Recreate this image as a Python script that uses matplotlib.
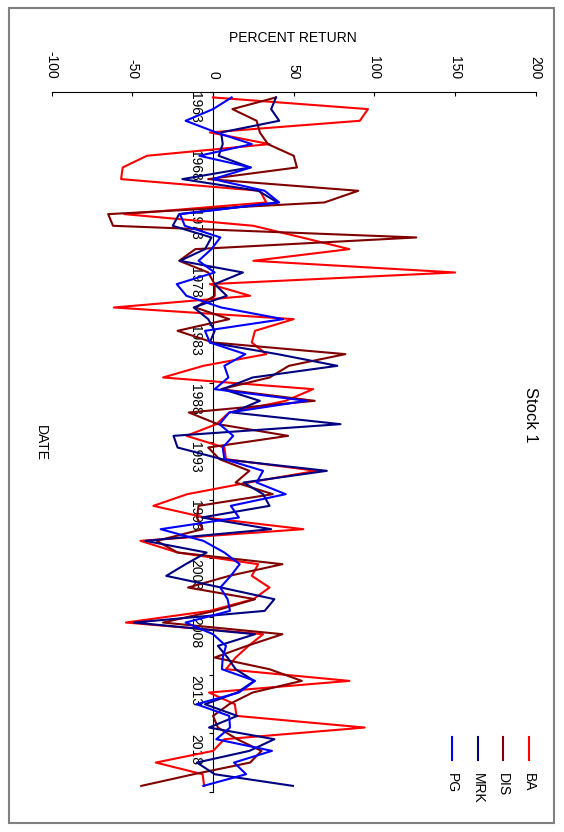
import numpy as np
import matplotlib
matplotlib.use("Agg")
import matplotlib.pyplot as plt
from matplotlib.lines import Line2D
from matplotlib.patches import Rectangle

plt.rcParams['font.family'] = ['Liberation Sans', 'DejaVu Sans']

# annual returns (%), one value per year, dated mid-year
years = np.arange(1963, 2023)

ba = [0, 96, 91, -2, 35, -41, -56, -57, 29, 33,
      -55, 25, 55, 84.5, 25, 150, -2, 23, -61.5, 50,
      26, 24, 33, -6, -31, 62, 45, 10, 2, -16.5,
      7, 8, 64, 22, -16, -37, -5, 56, -45, -22,
      28, 24, 35, 25, -2, -54, 31, 22, 14, 8,
      84.5, -2.5, 13.5, 14.5, 94, 7, 0, -35.5, -6.5, -5.5]

dis = [39, 12, 27, 29, 34, 50, 52, -3, 90, 69,
       -65, -62, 126, -11, -21, -3, 1, 1, -11, 10,
       -22, 0, 82, 47, 35, 5, 63, -15, 3, 46.5,
       -3, 4, 22.5, 14, 37, -9, -10, -6.5, -35, -22,
       43, 10, -15.5, 26, 1, -31, 43, 21, 1, 35,
       55, 24.5, 10, 0, 3, 15, 30, 23, -12, -44.5]

mrk = [39, 36, 41, 5, 6, 3.5, 23, -19, 28, 40,
       -21, -25, -1, -5, -20.5, 18.5, 1, 8.5, -12, -3,
       1, -2, 40, 77, 24.5, 6, 29, 12, 79, -24.5,
       -22, 5.5, 70.5, 19, 31, 35, -7, 36, -42, -4,
       -17, -29, 5, 38, 32, -49, 26, 3, 9, 14,
       25.5, 15, -5, 15, -2.5, 38, 22.5, -10, 1, 49.5]

pg = [11.5, 0, -17, 2, 24, -8.5, 23.5, 0, 32, 41,
      -20.5, -17.5, 4.5, -1, -9, 1, -22.5, -16.5, 5, 43.5,
      -5, -2, 20, 7, 9.5, 1, 58, 10, 4, 12.5,
      6, 7, 31, 27, 45, 11, 16, -32.5, -6, 7,
      16.5, 11, 4.5, 9, 10.5, -17, 0, 8, 6, 5.5,
      26, 16, -10.3, 10, 10.5, 2, 36.5, 13, 20.5, -6]

names = ['BA', 'DIS', 'MRK', 'PG']
colors = ['#ff0000', '#800000', '#000080', '#0000ff']
series = [ba, dis, mrk, pg]

label_years = np.arange(1963, 2019, 5)
tick_years = np.arange(1963, 2024, 5)
x_ticks = np.arange(-100, 201, 50)

fig = plt.figure(figsize=(5.64, 8.32), dpi=100)
ax = fig.add_axes([0.0917, 0.0484, 0.8582, 0.8415])

dates = years + 0.5
for vals, c in zip(series, colors):
    ax.plot(vals, dates, color=c, lw=1.5, zorder=3)

ax.set_xlim(-100, 200)
ax.set_ylim(2023, 1963)

# value axis on top
ax.xaxis.set_ticks_position('top')
ax.set_xticks(x_ticks)
ax.set_xticklabels([str(v) for v in x_ticks], rotation=270, fontsize=10)
ax.tick_params(axis='x', direction='in', length=3, width=0.8, pad=9)

# date axis crosses at 0
ax.spines['left'].set_position(('data', 0))
ax.spines['left'].set_zorder(2)
for s in ['right', 'bottom']:
    ax.spines[s].set_visible(False)
ax.spines['top'].set_linewidth(0.8)
ax.spines['left'].set_linewidth(0.8)
ax.set_yticks(tick_years)
ax.set_yticklabels([])
ax.set_yticks(label_years + 0.5, minor=True)
ax.set_yticklabels([str(y) for y in label_years], minor=True, rotation=270, fontsize=10)
ax.tick_params(axis='y', which='major', direction='out', length=3, width=0.8)
ax.tick_params(axis='y', which='minor', length=0, pad=8)

fig.text(0.5195, 0.9543, 'PERCENT RETURN', ha='center', va='center', fontsize=10)
fig.text(0.0727, 0.4675, 'DATE', ha='center', va='center', rotation=270, fontsize=10)
fig.text(0.940, 0.501, 'Stock 1', ha='center', va='center', rotation=270, fontsize=12)

# legend, rotated like the rest of the chart
leg_x = [0.938, 0.892, 0.848, 0.802]
for nm, c, lx in zip(names, colors, leg_x):
    fig.add_artist(Line2D([lx, lx], [0.0865, 0.1142], color=c, lw=1.5,
                          transform=fig.transFigure))
    fig.text(lx, 0.0709, nm, ha='center', va='top', rotation=270, fontsize=10)

fig.add_artist(Rectangle((0.016, 0.0108), 0.966, 0.9796, transform=fig.transFigure,
                         fill=False, edgecolor='#808080', lw=1.5))

fig.savefig('out.png', dpi=100)
